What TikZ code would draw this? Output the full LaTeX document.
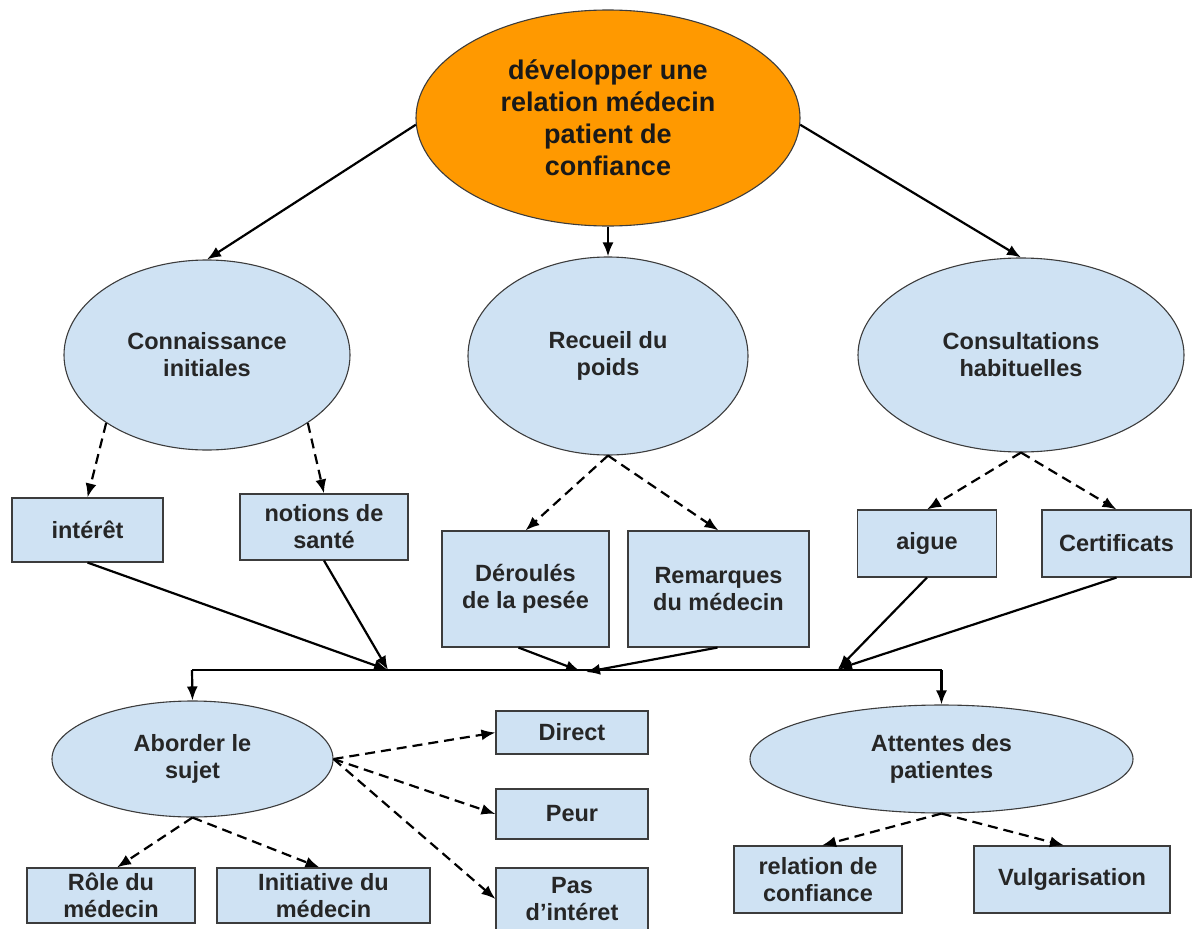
\documentclass[tikz,border=0pt]{standalone}
\usepackage{fontspec}
\setmainfont{Liberation Sans}
\usetikzlibrary{shapes.geometric,arrows.meta}
\definecolor{paleblue}{HTML}{CFE2F3}
\definecolor{orangefill}{HTML}{FF9900}
\definecolor{edgegray}{HTML}{3C3C3C}
\begin{document}
\begin{tikzpicture}[x=1pt,y=-1pt,
  txt/.style={font=\fontsize{23.5}{27}\selectfont\bfseries, text=black!85, align=center},
  oval/.style={ellipse, draw=edgegray, line width=1.1pt, fill=paleblue, inner sep=0pt, txt},
  card/.style={rectangle, draw=edgegray, line width=1.1pt, fill=paleblue, inner sep=0pt, txt},
  link/.style={line width=2.2pt, -{Latex[length=14pt,width=11pt]}},
  dlink/.style={link, dash pattern=on 10pt off 6pt},
  bus/.style={line width=2.4pt}]
\useasboundingbox (0,0) rectangle (1192,929);

% central goal
\node[ellipse, draw=edgegray, line width=1.1pt, fill=orangefill, inner sep=0pt,
      minimum width=384pt, minimum height=216pt,
      font=\fontsize{27}{32}\selectfont\bfseries, align=center, text=black!90]
      (goal) at (608,118) {développer une\\relation médecin\\patient de\\confiance};

% three themes
\node[oval, minimum width=286pt, minimum height=190pt] (conn) at (207,355) {Connaissance\\initiales};
\node[oval, minimum width=280pt, minimum height=198pt] (poids) at (608,356) {Recueil du\\poids};
\node[oval, minimum width=326pt, minimum height=194pt] (consult) at (1021,355) {Consultations\\habituelles};

% sub-items
\node[card, minimum width=151pt, minimum height=64pt] (interet) at (87.5,530) {intérêt};
\node[card, minimum width=168pt, minimum height=66pt] (notions) at (324,527) {notions de\\santé};
\node[card, minimum width=167pt, minimum height=116pt] (deroule) at (525.5,589) {Déroulés\\de la pesée};
\node[card, minimum width=181pt, minimum height=116pt] (remarq) at (718.5,589) {Remarques\\du médecin};
\node[card, minimum width=139pt, minimum height=67pt] (aigue) at (927,543.5) {aigue};
\node[card, minimum width=149pt, minimum height=67pt] (certif) at (1116.5,543.5) {Certificats};

% lower ovals
\node[oval, minimum width=281pt, minimum height=116pt] (aborder) at (192.5,759) {Aborder le\\sujet};
\node[oval, minimum width=383pt, minimum height=108pt] (attentes) at (941.5,759) {Attentes des\\patientes};

% lower boxes
\node[card, minimum width=152pt, minimum height=43pt] (direct) at (572,732.5) {Direct};
\node[card, minimum width=152pt, minimum height=50pt] (peur) at (572,814) {Peur};
\node[card, minimum width=152pt, minimum height=62pt] (pas) at (572,899) {Pas\\d’intéret};
\node[card, minimum width=168pt, minimum height=55pt] (role) at (111,895.5) {Rôle du\\médecin};
\node[card, minimum width=213pt, minimum height=55pt] (initiative) at (323.5,895.5) {Initiative du\\médecin};
\node[card, minimum width=168pt, minimum height=67pt] (relconf) at (818,879.5) {relation de\\confiance};
\node[card, minimum width=196pt, minimum height=67pt] (vulga) at (1072,879.5) {Vulgarisation};

% junction points on the bus
\coordinate (busL) at (192,670);
\coordinate (busR) at (941.5,670);
\coordinate (j1) at (388,670);
\coordinate (j2a) at (580,671);
\coordinate (j2b) at (586,672);
\coordinate (j3) at (838,669);

% goal to themes
\draw[link] (goal.182) -- (conn.north);
\draw[link] (goal.south) -- (poids.north);
\draw[link] (goal.-2) -- (consult.north);

% themes to sub-items
\draw[dlink] (conn.-146) -- (interet.north);
\draw[dlink] (conn.-34) -- (notions.north);
\draw[dlink] (poids.south) -- (deroule.north);
\draw[dlink] (poids.south) -- (remarq.north);
\draw[dlink] (consult.south) -- (aigue.north);
\draw[dlink] (consult.south) -- (certif.north);

% sub-items converge on the bus
\draw[link] (interet.south) -- (j1);
\draw[link] (notions.south) -- (j1);
\draw[link] ([xshift=-7pt]deroule.south) -- (j2a);
\draw[link] ([xshift=-1pt]remarq.south) -- (j2b);
\draw[link] (aigue.south) -- (j3);
\draw[link] (certif.south) -- (j3);

% bus and its two outlets
\draw[bus] (busL) -- (busR);
\draw[link] (busL) -- (aborder.north);
\draw[link] (busR) -- (attentes.north);

% approach of the subject
\draw[dlink] (aborder.east) -- (direct.west);
\draw[dlink] (aborder.east) -- (peur.west);
\draw[dlink] (aborder.east) -- (pas.west);
\draw[dlink] (aborder.south) -- ([xshift=6pt]role.north);
\draw[dlink] (aborder.south) -- ([xshift=-4pt]initiative.north);

% expectations of the patients
\draw[dlink] (attentes.south) -- ([xshift=4pt]relconf.north);
\draw[dlink] (attentes.south) -- ([xshift=-8pt]vulga.north);
\end{tikzpicture}
\end{document}
